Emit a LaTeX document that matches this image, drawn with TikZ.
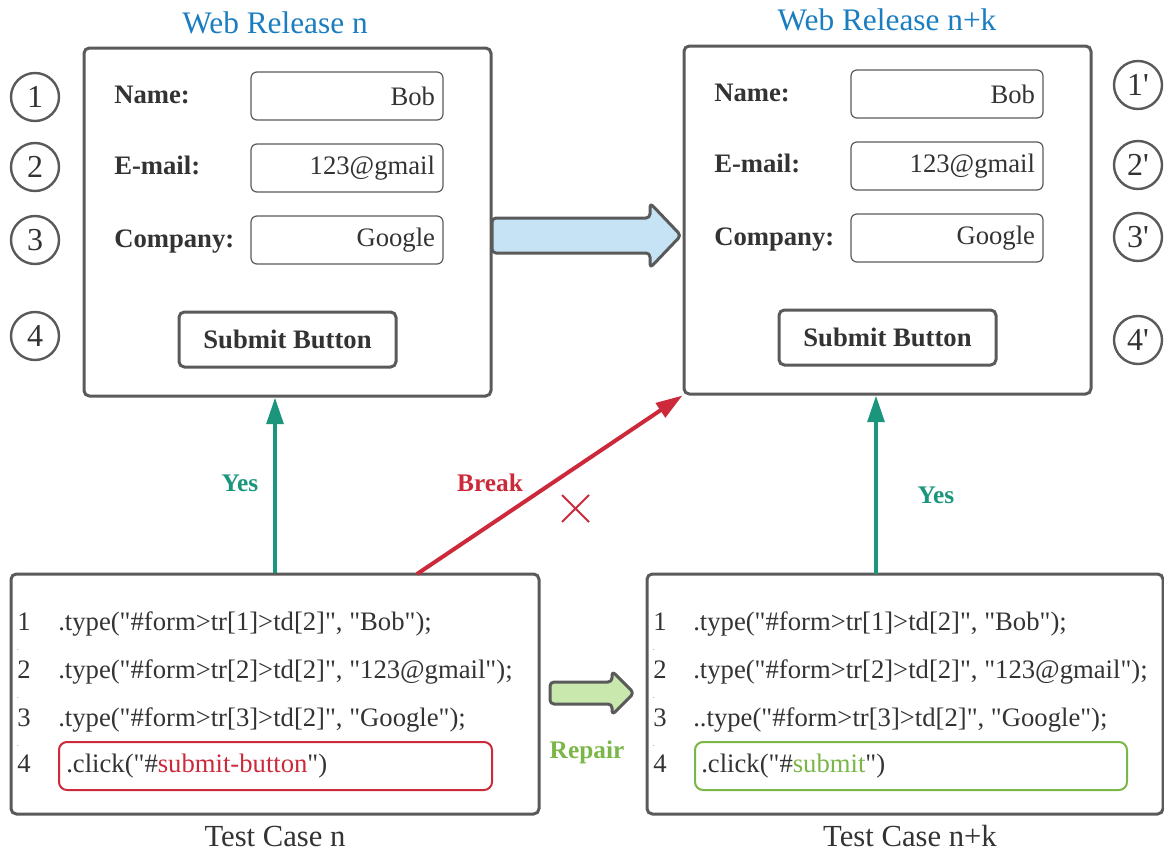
\documentclass[tikz,border=0pt]{standalone}
\usepackage{fontspec}
\setmainfont{Liberation Serif}
\usetikzlibrary{arrows.meta,shapes,shapes.misc,positioning}
\definecolor{framegray}{HTML}{5A5A5A}
\definecolor{inkgray}{HTML}{333333}
\definecolor{relblue}{HTML}{1A7DC0}
\definecolor{yesteal}{HTML}{1B967D}
\definecolor{breakred}{HTML}{CC2A3A}
\definecolor{repairgreen}{HTML}{7AB648}
\definecolor{flowblue}{HTML}{C5E3F5}
\definecolor{flowgreen}{HTML}{C8E8AE}
\newcommand\dq{\textquotedbl}

\begin{document}
\begin{tikzpicture}[x=0.75pt,y=-0.75pt,
  every node/.style={text=inkgray,inner sep=0pt},
  frame/.style={draw=framegray,line width=2.25pt,rounded corners=4pt},
  title/.style={text=relblue,anchor=base,font=\fontsize{23.5pt}{28pt}\selectfont},
  formbox/.style={frame,minimum width=305.25pt,minimum height=261pt},
  num/.style={circle,draw=framegray,line width=1.8pt,minimum size=36pt,font=\fontsize{24pt}{28pt}\selectfont},
  field/.style={anchor=base west,font=\bfseries\fontsize{20pt}{24pt}\selectfont},
  entry/.style={draw=framegray,line width=0.9pt,rounded corners=4.5pt,minimum height=36pt,
    text width=132pt,inner xsep=6pt,align=right,font=\fontsize{20pt}{24pt}\selectfont},
  submit/.style={frame,minimum width=162.75pt,minimum height=41.25pt,font=\bfseries\fontsize{20pt}{24pt}\selectfont},
  testbox/.style={frame,minimum height=180pt},
  code/.style={anchor=base west,font=\fontsize{20pt}{24pt}\selectfont},
  speck/.style={font=\fontsize{5pt}{6pt}\selectfont},
  hit/.style={draw=#1,line width=1.5pt,rounded corners=6pt,minimum height=36pt},
  caption/.style={anchor=base,font=\fontsize{23pt}{27pt}\selectfont},
  link/.style={line width=3pt,-{Triangle[length=20pt,width=12.5pt]}},
  tag/.style={font=\bfseries\fontsize{19pt}{23pt}\selectfont},
  bigarrow/.style={draw=framegray,line width=2.25pt,rounded corners=3pt,line join=round}]

\useasboundingbox (0,0) rectangle (1164,853);

% web releases
\node[title] (relA) at (275,33) {Web Release n};
\node[title] (relB) at (887,31) {Web Release n+k};
\node[formbox] (formA) at (287.5,222) {};
\node[formbox] (formB) at (887.5,220) {};

\foreach \y/\n in {97/1,167/2,240/3,336/4}
  \node[num] (cA\n) at (35,\y) {\n};
\foreach \y/\n in {85/1,165/2,237/3,340/4}
  \node[num] (cB\n) at (1138,\y) {\n\textquotesingle};

\node[field] (nameA) at (114,103) {Name:};
\node[field] (mailA) at (114,174) {E-mail:};
\node[field] (compA) at (114,247) {Company:};
\node[entry] (inNameA) at (347,96) {Bob};
\node[entry] (inMailA) at (347,168) {123@gmail};
\node[entry] (inCompA) at (347,240) {Google};
\node[submit] (btnA) at (287.5,339.5) {Submit Button};

\node[field] (nameB) at (714,101) {Name:};
\node[field] (mailB) at (714,172) {E-mail:};
\node[field] (compB) at (714,245) {Company:};
\node[entry] (inNameB) at (947,94) {Bob};
\node[entry] (inMailB) at (947,166) {123@gmail};
\node[entry] (inCompB) at (947,238) {Google};
\node[submit] (btnB) at (887.5,337.5) {Submit Button};

\draw[bigarrow,fill=flowblue] (492,218) -- (650,218) -- (650,203) -- (681,235.5)
  -- (650,268) -- (650,253) -- (492,253) -- cycle;

% test cases
\node[testbox,minimum width=396pt] (testA) at (275,694) {};
\node[testbox,minimum width=387pt] (testB) at (905,694) {};
\node[hit=breakred,minimum width=324.75pt] (hitA) at (275.5,766) {};
\node[hit=repairgreen,minimum width=324pt] (hitB) at (911,766) {};

\node[code] (nA1) at (17,630) {1};
\node[code] (nA2) at (17,678) {2};
\node[code] (nA3) at (17,726) {3};
\node[code] (nA4) at (17,772) {4};
\node[code] (lA1) at (58,630) {.type(\dq\#form>tr[1]>td[2]\dq, \dq Bob\dq);};
\node[code] (lA2) at (58,678) {.type(\dq\#form>tr[2]>td[2]\dq, \dq 123@gmail\dq);};
\node[code] (lA3) at (58,726) {.type(\dq\#form>tr[3]>td[2]\dq, \dq Google\dq);};
\node[code] (lA4) at (66,772) {.click(\dq\#\textcolor{breakred}{submit-button}\dq)};

\node[code] (nB1) at (653,630) {1};
\node[code] (nB2) at (653,678) {2};
\node[code] (nB3) at (653,726) {3};
\node[code] (nB4) at (653,772) {4};
\node[code] (lB1) at (693,630) {.type(\dq\#form>tr[1]>td[2]\dq, \dq Bob\dq);};
\node[code] (lB2) at (693,678) {.type(\dq\#form>tr[2]>td[2]\dq, \dq 123@gmail\dq);};
\node[code] (lB3) at (693,726) {..type(\dq\#form>tr[3]>td[2]\dq, \dq Google\dq);};
\node[code] (lB4) at (701,772) {.click(\dq\#\textcolor{repairgreen}{submit}\dq)};

\foreach \y [count=\i] in {650,698,746} {
  \node[speck] (dA\i) at (18,\y) {.};
  \node[speck] (dB\i) at (654,\y) {.};
}

\node[caption] (capA) at (275,846) {Test Case n};
\node[caption] (capB) at (910,846) {Test Case n+k};

\draw[bigarrow,fill=flowgreen] (550,682) -- (612,682) -- (612,671) -- (634,693)
  -- (612,715) -- (612,704) -- (550,704) -- cycle;
\node[tag,text=repairgreen] (repair) at (587,752) {Repair};

% outcomes
\coordinate (brk) at (417,574);
\coordinate (okB) at (876,574);
\draw[link,yesteal] (testA.north) -- (testA.north |- formA.south);
\draw[link,yesteal] (okB) -- (okB |- formB.south);
\draw[link,breakred] (brk) -- (formB.south west);
\node[tag,text=yesteal] (yesA) at (240,483) {Yes};
\node[tag,text=yesteal] (yesB) at (936,495) {Yes};
\node[tag,text=breakred] (break) at (490,483) {Break};
\node[cross out,draw=breakred,line width=1.5pt,minimum size=18.75pt] (fail) at (575.5,508.5) {};

\end{tikzpicture}
\end{document}
